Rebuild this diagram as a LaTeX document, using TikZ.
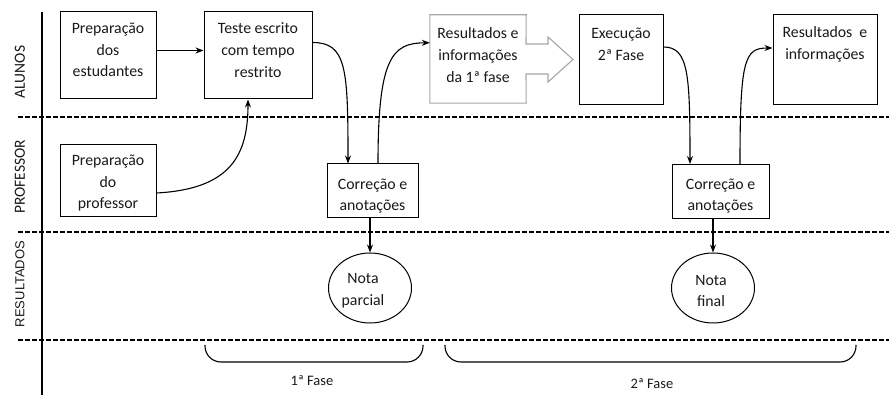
\documentclass[tikz,border=0pt]{standalone}
\usepackage{fontspec}
\setmainfont{Carlito}
\newfontfamily\lanefont{Liberation Sans}
\usetikzlibrary{arrows.meta,shapes.geometric}
\definecolor{txtc}{gray}{0.1}
\begin{document}
\begin{tikzpicture}[x=1pt,y=-1pt,
  box/.style={draw, line width=1pt, inner sep=0pt},
  txt/.style={align=center, text=txtc, font=\fontsize{15.8}{21.7}\selectfont, inner sep=0pt},
  lane/.style={rotate=90, text=txtc, inner sep=0pt},
  sep/.style={dashed, dash pattern=on 4.5pt off 2.5pt, line width=1.1pt},
  arr/.style={line width=1.1pt, -{Stealth[length=8pt,width=6pt]}},
  nota/.style={draw, ellipse, line width=1pt, minimum width=83pt, minimum height=70pt, inner sep=0pt},
  brk/.style={line width=1.1pt, rounded corners=16pt}]
\useasboundingbox (0,0) rectangle (889,395);

% lanes
\draw[line width=1.1pt] (42,12) -- (42,395);
\draw[sep] (18,117) -- (889,117);
\draw[sep] (18,232) -- (889,232);
\draw[sep] (18,340) -- (889,340);
\node[lane, font=\fontsize{15.5}{17}\selectfont] (lal) at (20,72) {ALUNOS};
\node[lane, font=\fontsize{15.5}{17}\selectfont] (lpr) at (20,177) {PROFESSOR};
\node[lane, font=\lanefont\fontsize{13}{15}\selectfont] (lre) at (20,284) {RESULTADOS};

% boxes
\node[box, minimum width=96pt, minimum height=87pt] (b1) at (108,55.5) {};
\node[txt] (b1t) at (108,50) {Preparação\\dos\\estudantes};
\node[box, minimum width=108pt, minimum height=87pt] (b2) at (258,55.5) {};
\node[txt] (b2t) at (258,50) {Teste escrito\\com tempo\\restrito};
\node[box, minimum width=96pt, minimum height=72pt] (b3) at (108,181) {};
\node[txt] (b3t) at (108,183) {Preparação\\do\\professor};
\node[box, minimum width=91pt, minimum height=54pt] (c1) at (372.5,191) {};
\node[txt] (c1t) at (372.5,196) {Correção e\\anotações};

% big arrow box
\node[minimum width=96pt, minimum height=88pt, inner sep=0pt] (res1) at (478,59) {};
\draw[line width=1.1pt, draw=gray!70, line join=miter]
  (res1.north west) -- (res1.north east) -- (526,44) -- (548,44) -- (548,37) -- (573,59.5)
  -- (548,82) -- (548,74) -- (526,74) -- (res1.south east) -- (res1.south west) -- cycle;
\node[txt] (res1t) at (478,55) {Resultados e\\informações\\da 1ª fase};

\node[box, minimum width=84pt, minimum height=90pt] (ex) at (621,60) {};
\node[txt] (ext) at (621,44) {Execução\\2ª Fase};
\node[box, minimum width=104pt, minimum height=90pt] (r2) at (825,60) {};
\node[txt] (r2t) at (825,44) {Resultados\ \ e\\informações};
\node[box, minimum width=97pt, minimum height=54pt] (c2) at (720.5,191.5) {};
\node[txt] (c2t) at (720.5,196) {Correção e\\anotações};

% grades
\node[nota] (n1) at (370,288) {};
\node[txt] (n1t) at (363,291) {Nota\\parcial};
\node[nota] (n2) at (713,288) {};
\node[txt] (n2t) at (711,291) {Nota\\final};

% connectors
\draw[arr] ([yshift=5pt]b1.east) -- ([yshift=5pt]b2.west);
\draw[arr] ([yshift=-12pt]b3.east) .. controls +(75,-4) and +(0,55) .. ([xshift=-10pt]b2.south);
\draw[arr] ([yshift=-31pt]b2.north east) .. controls +(34,0) and +(0,-95) .. ([xshift=-24.5pt]c1.north);
\draw[arr] ([xshift=5.5pt]c1.north) .. controls +(0,-105) and +(-38,0) .. ([yshift=-28pt]res1.north west);
\draw[arr] ([yshift=13pt]ex.east) .. controls +(25,0) and +(0,-90) .. ([xshift=-30.5pt]c2.north);
\draw[arr] ([xshift=19.5pt]c2.north) .. controls +(0,-105) and +(-28,0) .. ([yshift=12pt]r2.west);
\draw[arr] (c1.south -| n1.north) -- (n1.north);
\draw[arr] (c2.south -| n2.north) -- (n2.north);

% phase brackets
\draw[brk] (205,345) -- (205,362) -- (423,362) -- (423,345);
\draw[brk] (445,345) -- (445,362) -- (856,362) -- (856,345);
\node[txt, font=\fontsize{14.5}{16}\selectfont] (f1) at (312,381) {1ª Fase};
\node[txt, font=\fontsize{14.5}{16}\selectfont] (f2) at (652,384) {2ª Fase};
\end{tikzpicture}
\end{document}
